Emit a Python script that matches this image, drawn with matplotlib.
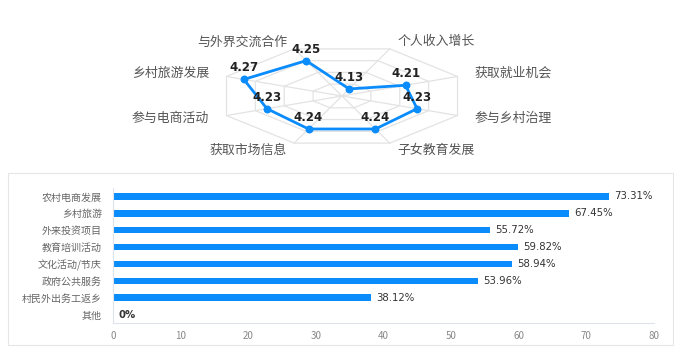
import numpy as np
import matplotlib
matplotlib.use("Agg")
import matplotlib.pyplot as plt
from matplotlib.patches import Rectangle

plt.rcParams['font.family'] = ['Noto Sans CJK SC', 'DejaVu Sans']

# radar data
radar_labels = ['与外界交流合作', '个人收入增长', '获取就业机会', '参与乡村治理',
                '子女教育发展', '获取市场信息', '参与电商活动', '乡村旅游发展']
radar_values = [4.25, 4.13, 4.21, 4.23, 4.24, 4.24, 4.23, 4.27]
r_min, r_max = 4.1, 4.3

# bar data
bar_labels = ['农村电商发展', '乡村旅游', '外来投资项目', '教育培训活动',
              '文化活动/节庆', '政府公共服务', '村民外出务工返乡', '其他']
bar_values = [73.31, 67.45, 55.72, 59.82, 58.94, 53.96, 38.12, 0]

blue = '#0b8cfc'
W, H = 680, 358
fig = plt.figure(figsize=(W / 100, H / 100), dpi=100)

# ---- radar (drawn on plain axes so it can be squashed like the original)
cx, cy, Rx, Ry = 342, 96, 125, 51
lim = 1.3
ax1 = fig.add_axes([(cx - lim * Rx) / W, (H - cy - lim * Ry) / H,
                    2 * lim * Rx / W, 2 * lim * Ry / H])
ax1.set_xlim(-lim, lim)
ax1.set_ylim(-lim, lim)
ax1.axis('off')

ang = np.deg2rad(112.5 - 45 * np.arange(len(radar_labels)))
ca, sa = np.cos(ang), np.sin(ang)

# grid rings and spokes
for lev in np.linspace(0.25, 1.0, 4):
    ax1.plot(np.append(ca, ca[0]) * lev, np.append(sa, sa[0]) * lev,
             color='#e3e3e3', lw=0.9, zorder=1)
for c, s in zip(ca, sa):
    ax1.plot([0, c], [0, s], color='#e3e3e3', lw=0.9, zorder=1)

rr = (np.array(radar_values) - r_min) / (r_max - r_min)
px, py = rr * ca, rr * sa
ax1.plot(np.append(px, px[0]), np.append(py, py[0]), color=blue, lw=2, zorder=3)
ax1.scatter(px, py, s=22, color=blue, zorder=4)
for x, y, v in zip(px, py, radar_values):
    ax1.text(x, y + 0.1, '%.2f' % v, ha='center', va='bottom', fontsize=8.5,
             fontweight='bold', color='#222222', family='DejaVu Sans', zorder=5)

for c, s, lab in zip(ca, sa, radar_labels):
    ha = 'left' if c > 0.01 else ('right' if c < -0.01 else 'center')
    ax1.text(1.15 * c, 1.15 * s, lab, ha=ha, va='center', fontsize=9.3,
             color='#555555')

# ---- bar panel border
fig.patches.append(Rectangle((8 / W, (H - 345) / H), (673 - 8) / W, (345 - 173) / H,
                             transform=fig.transFigure, fill=False,
                             edgecolor='#e6e6e6', lw=0.8))

ax2 = fig.add_axes([113 / W, (H - 323) / H, (654 - 113) / W, 135 / H])
y = np.arange(len(bar_labels))
ax2.barh(y, bar_values, height=0.38, color=blue)
ax2.set_ylim(len(bar_labels) - 0.5, -0.5)
ax2.set_xlim(0, 80)
ax2.set_xticks(np.arange(0, 81, 10))
ax2.set_yticks(y)
ax2.set_yticklabels(bar_labels, fontsize=7.2, color='#666666')
ax2.tick_params(axis='x', labelsize=7, colors='#888888', length=0, pad=6)
ax2.tick_params(axis='y', length=0, pad=8)
for sp in ['top', 'right']:
    ax2.spines[sp].set_visible(False)
for sp in ['left', 'bottom']:
    ax2.spines[sp].set_color('#dde2ee')
    ax2.spines[sp].set_linewidth(0.8)
for yi, v in zip(y, bar_values):
    txt = '0%' if v == 0 else '%.2f%%' % v
    ax2.text(v + 0.8, yi, txt, va='center', ha='left', fontsize=7.3,
             color='#333333', family='DejaVu Sans',
             fontweight='bold' if v == 0 else 'normal')

fig.savefig('out.png', dpi=100)
